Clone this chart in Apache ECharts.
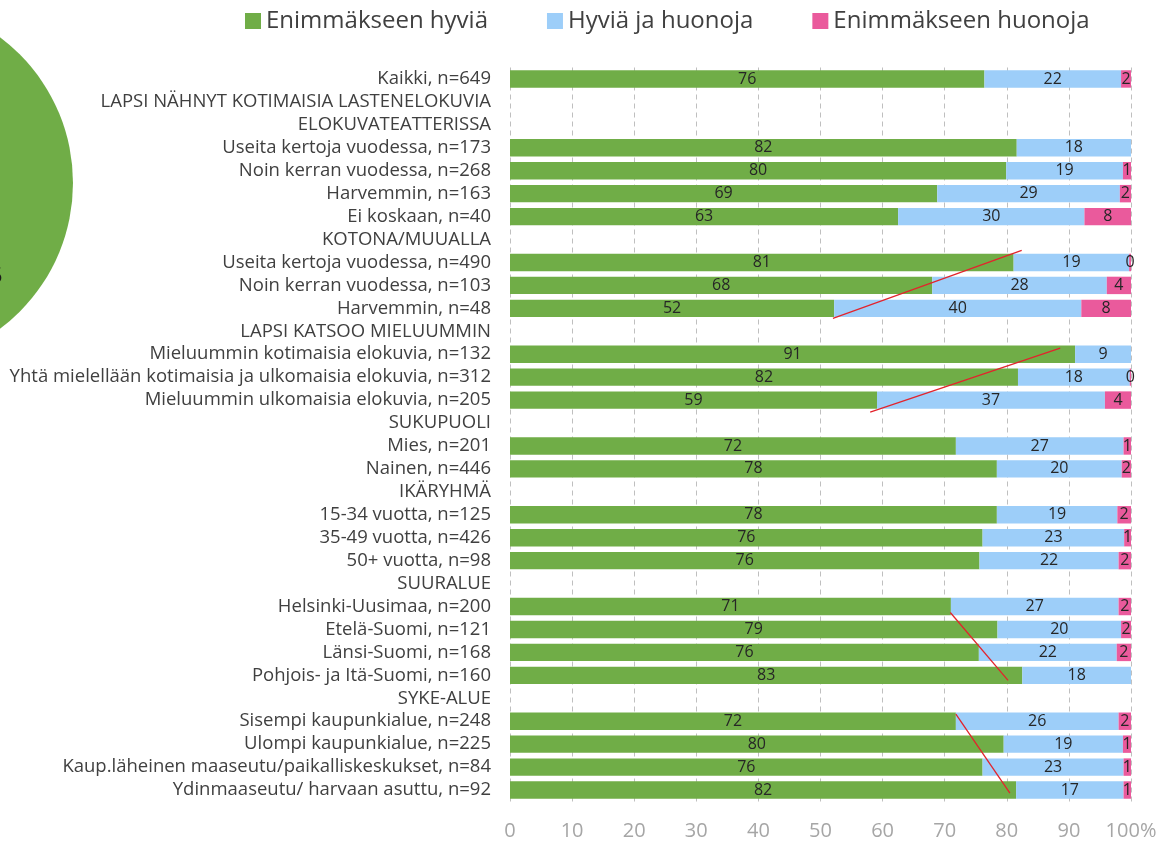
<!DOCTYPE html>
<html>
<head>
<meta charset="utf-8">
<script src="https://cdn.jsdelivr.net/npm/echarts@6/dist/echarts.min.js"></script>
<style>
  html, body { margin: 0; padding: 0; background: #fff; }
  #main { width: 1166px; height: 843px; }
</style>
</head>
<body>
<div id="main"></div>
<script>
// kategoriat (otsikkorivit ilman palkkeja)
var categories = [
  'Kaikki, n=649',
  'LAPSI NÄHNYT KOTIMAISIA LASTENELOKUVIA',
  'ELOKUVATEATTERISSA',
  'Useita kertoja vuodessa, n=173',
  'Noin kerran vuodessa, n=268',
  'Harvemmin, n=163',
  'Ei koskaan, n=40',
  'KOTONA/MUUALLA',
  'Useita kertoja vuodessa, n=490',
  'Noin kerran vuodessa, n=103',
  'Harvemmin, n=48',
  'LAPSI KATSOO MIELUUMMIN',
  'Mieluummin kotimaisia elokuvia, n=132',
  'Yhtä mielellään kotimaisia ja ulkomaisia elokuvia, n=312',
  'Mieluummin ulkomaisia elokuvia, n=205',
  'SUKUPUOLI',
  'Mies, n=201',
  'Nainen, n=446',
  'IKÄRYHMÄ',
  '15-34 vuotta, n=125',
  '35-49 vuotta, n=426',
  '50+ vuotta, n=98',
  'SUURALUE',
  'Helsinki-Uusimaa, n=200',
  'Etelä-Suomi, n=121',
  'Länsi-Suomi, n=168',
  'Pohjois- ja Itä-Suomi, n=160',
  'SYKE-ALUE',
  'Sisempi kaupunkialue, n=248',
  'Ulompi kaupunkialue, n=225',
  'Kaup.läheinen maaseutu/paikalliskeskukset, n=84',
  'Ydinmaaseutu/ harvaan asuttu, n=92'
]

var seriesNames = ['Enimmäkseen hyviä', 'Hyviä ja huonoja', 'Enimmäkseen huonoja']

var hyvia = [76.4, null, null, 81.6, 79.9, 68.8, 62.5, null, 81.1, 68.0, 52.2, null, 91.0, 81.8, 59.1, null, 71.8, 78.4, null, 78.4, 76.1, 75.6, null, 71.0, 78.5, 75.5, 82.5, null, 71.8, 79.5, 76.1, 81.5]
var molempia = [22.0, null, null, 18.4, 18.8, 29.4, 30.0, null, 18.6, 28.1, 39.8, null, 9.0, 18.0, 36.7, null, 27.0, 20.1, null, 19.4, 22.8, 22.4, null, 27.0, 19.9, 22.2, 17.5, null, 26.2, 19.2, 22.7, 17.3]
var huonoja = [1.6, null, null, null, 1.3, 1.8, 7.5, null, 0.3, 3.9, 8.0, null, null, 0.2, 4.2, null, 1.2, 1.5, null, 2.2, 1.1, 2.0, null, 2.0, 1.6, 2.3, null, null, 2.0, 1.3, 1.2, 1.2]

// punaiset apuviivat: [x, rivi, pystysiirto] -> [x, rivi, pystysiirto]
var redLines = [
  [[52.0, 'Harvemmin, n=48', 10], [82.4, 'Useita kertoja vuodessa, n=490', -12]],
  [[58.0, 'Mieluummin ulkomaisia elokuvia, n=205', 12], [88.6, 'Mieluummin kotimaisia elokuvia, n=132', -6]],
  [[70.9, 'Helsinki-Uusimaa, n=200', 6], [80.2, 'Pohjois- ja Itä-Suomi, n=160', 5]],
  [[71.8, 'Sisempi kaupunkialue, n=248', -7], [80.5, 'Ydinmaaseutu/ harvaan asuttu, n=92', 3]]
]

var color = ['#70AD47', '#9DCEF9', '#EA5A9C']
var font = 'Open Sans'

function makeSeries(name, data) {
  return {
    name: name,
    type: 'bar',
    stack: 'total',
    barCategoryGap: '24%',
    data: data,
    silent: true,
    label: {
      show: true,
      position: 'inside',
      color: '#262626',
      fontFamily: font,
      fontSize: 16,
      formatter: function (p) {
        return p.value == null ? '' : Math.round(p.value)
      }
    }
  }
}

var chart = echarts.init(document.getElementById('main'))
var option = {
  animation: false,
  color: color,
  textStyle: { fontFamily: font },
  legend: {
    top: 4,
    left: 240,
    icon: 'rect',
    itemWidth: 16,
    itemHeight: 16,
    itemGap: 59,
    textStyle: {
      color: '#404040',
      fontSize: 24,
      fontFamily: font
    },
    data: seriesNames
  },
  grid: {
    left: 510,
    right: 35,
    top: 67.5,
    bottom: 41.5,
    containLabel: false
  },
  xAxis: {
    type: 'value',
    min: 0,
    max: 100,
    interval: 10,
    axisLabel: {
      color: '#A6A6A6',
      fontSize: 20,
      margin: 20,
      fontFamily: font,
      formatter: function (v) {
        return v === 100 ? '100%' : v
      }
    },
    axisLine: { show: false },
    axisTick: { show: false },
    splitLine: {
      show: true,
      lineStyle: {
        color: '#BFBFBF',
        type: [5, 4],
        width: 1
      }
    }
  },
  yAxis: {
    type: 'category',
    inverse: true,
    data: categories,
    axisLine: { show: false },
    axisTick: { show: false },
    axisLabel: {
      interval: 0,
      color: '#404040',
      fontSize: 18.5,
      lineHeight: 22,
      margin: 19,
      fontFamily: font
    }
  },
  series: [
    makeSeries(seriesNames[0], hyvia),
    makeSeries(seriesNames[1], molempia),
    makeSeries(seriesNames[2], huonoja)
  ]
}
chart.setOption(option)

// vihreä ympyrä vasemmassa reunassa + punaiset viivat
var graphics = [
  {
    type: 'circle',
    shape: { cx: -109, cy: 183, r: 182 },
    style: { fill: '#70AD47' },
    z: 0
  },
  {
    type: 'text',
    left: -10,
    top: 266,
    style: { text: '5', fill: '#1a1a1a', font: '22px "Open Sans"' }
  }
]
redLines.forEach(function (ln) {
  var a = chart.convertToPixel({ gridIndex: 0 }, [ln[0][0], ln[0][1]])
  var b = chart.convertToPixel({ gridIndex: 0 }, [ln[1][0], ln[1][1]])
  graphics.push({
    type: 'line',
    shape: { x1: a[0], y1: a[1] + ln[0][2], x2: b[0], y2: b[1] + ln[1][2] },
    style: { stroke: '#E3232C', lineWidth: 1.3 },
    z: 100
  })
})
chart.setOption({ graphic: graphics })
</script>
</body>
</html>
